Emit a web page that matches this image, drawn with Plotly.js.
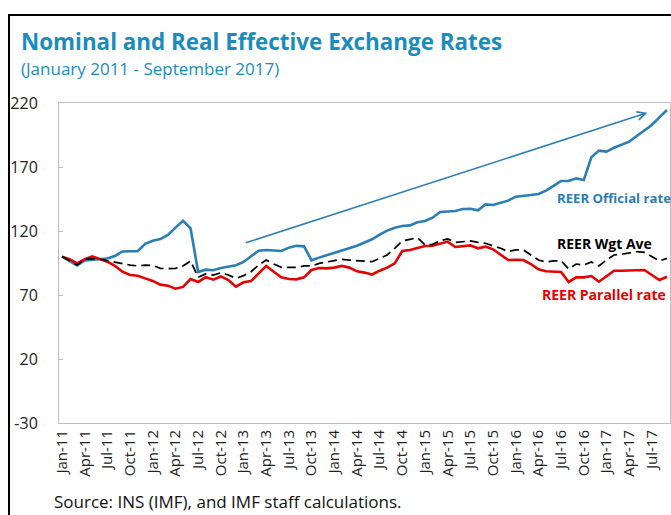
<!DOCTYPE html>
<html>
<head>
<meta charset="utf-8">
<script src="https://cdn.plot.ly/plotly-3.0.1.min.js"></script>
<style>
  html, body { margin: 0; padding: 0; background: #fff; }
  #wrap { position: relative; width: 671px; height: 515px; overflow: hidden; }
  #chart { position: absolute; left: 0; top: 0; width: 671px; height: 515px; }
  #frame { position: absolute; left: 8px; top: 14px; width: 700px; height: 600px;
           border-left: 2px solid #000; border-top: 2px solid #000; pointer-events: none; }
</style>
</head>
<body>
<div id="wrap">
  <div id="chart"></div>
  <div id="frame"></div>
</div>
<script>
// Month labels Jan-11 ... Sep-17
const monthNames = ["Jan","Feb","Mar","Apr","May","Jun","Jul","Aug","Sep","Oct","Nov","Dec"];
const years = ["11","12","13","14","15","16","17"];
const months = [];
years.forEach(function (yy) {
  monthNames.forEach(function (m) { months.push(m + "-" + yy); });
});
months.length = 81; // through Sep-17

const tickLabels = ["Jan-11","Apr-11","Jul-11","Oct-11","Jan-12","Apr-12","Jul-12","Oct-12",
  "Jan-13","Apr-13","Jul-13","Oct-13","Jan-14","Apr-14","Jul-14","Oct-14",
  "Jan-15","Apr-15","Jul-15","Oct-15","Jan-16","Apr-16","Jul-16","Oct-16",
  "Jan-17","Apr-17","Jul-17"];

const yTicks = [-30, 20, 70, 120, 170, 220];

const reerOfficial = [
  100, 96.6, 93, 97, 97.5, 98, 98.5, 100.5, 104, 104.2, 104.2, 110,
  112.4, 113.7, 117, 122.6, 128, 122, 88, 89.8, 89.3, 91.1, 92.1, 93.2,
  95.8, 100.5, 104.6, 105.2, 104.6, 104.4, 107, 108.5, 108, 97.1, 99.2, 101,
  103.1, 104.9, 106.2, 108.5, 111, 113.5, 117.1, 120.3, 122.6, 123.9, 124.4, 126.8,
  127.8, 130.4, 134.8, 135.1, 135.6, 137.2, 137.4, 136.1, 140.8, 140.3, 142.1, 143.7,
  146.8, 147.3, 148.1, 148.9, 151.5, 155.2, 159.1, 159.1, 161.1, 159.8, 177.6, 182.8,
  182, 185.1, 187.2, 189.8, 194.2, 198.4, 202.8, 208.8, 214.5
];

const reerWgtAve = [
  100, 96.5, 93.4, 97.9, 98.4, 97.9, 96.8, 95.3, 94.2, 93.4, 92.7, 93.4,
  93.1, 90.8, 90.6, 90.8, 92.7, 96.6, 83.8, 86.5, 85.5, 87.4, 85.6, 83,
  85.1, 88.2, 93.4, 97.3, 94.2, 91.6, 91.6, 91.6, 92.7, 92.7, 94.7, 95.8,
  97.3, 97.9, 97.3, 96.8, 96.3, 96, 98.6, 101.3, 106.5, 112.2, 113.5, 114.8,
  109.1, 109.6, 112.4, 113.75, 111.1, 111.9, 112.2, 111.1, 110.4, 108.3, 106.5, 103.9,
  105.2, 105.2, 101.25, 97.3, 95.8, 96.6, 96.8, 90.3, 94.2, 93.4, 95.8, 92.7,
  97.3, 101.25, 101.8, 102.6, 103.9, 103.3, 99.9, 96.6, 98.6
];

const reerParallel = [
  100, 97.9, 94.7, 97.9, 100.2, 97.9, 96, 92.7, 88.2, 85.6, 85.1, 83,
  81, 78.1, 77.3, 74.9, 76.3, 82.5, 80.2, 84, 82, 84.5, 81.7, 76.5,
  79.9, 80.9, 86.9, 92.7, 88.2, 83.8, 82.5, 82.2, 83.8, 89.5, 91.1, 90.8,
  91.4, 92.7, 91.4, 88.5, 87.5, 86, 89, 91.4, 94.7, 104.4, 105.2, 106.5,
  108.3, 108.5, 110.4, 111.7, 107.5, 108.3, 108.8, 106.5, 107.8, 105.7, 101.5, 97.3,
  97.5, 97.3, 94.2, 90.1, 88.5, 88.5, 88, 80.2, 83.8, 83.8, 84.8, 80.4,
  84.8, 89, 89, 89, 89.5, 89.5, 85.6, 81.7, 84.3
];

// Trend arrow (start / end in data units: month index, value)
const arrowStart = [24.1, 110.4];
const arrowEnd = [77.4, 212.4];

const BLUE = "#2a7db5";
const RED = "#e60000";
const TEAL = "#1a8cbc";
const FONT = "Open Sans, Noto Sans, sans-serif";

// plot area in pixels
const W = 671, H = 515;
const M = { l: 59, r: 1, t: 103, b: 92 };
const pw = W - M.l - M.r, ph = H - M.t - M.b;
function px(x) { return (x - M.l) / pw; }
function py(y) { return (H - M.b - y) / ph; }

const traces = [
  { x: months, y: reerOfficial, type: "scatter", mode: "lines", name: "REER Official rate",
    line: { color: BLUE, width: 2.6 }, hoverinfo: "skip" },
  { x: months, y: reerParallel, type: "scatter", mode: "lines", name: "REER Parallel rate",
    line: { color: RED, width: 2.6 }, hoverinfo: "skip" },
  { x: months, y: reerWgtAve, type: "scatter", mode: "lines", name: "REER Wgt Ave",
    line: { color: "#000", width: 1.7, dash: "9px,5px" }, hoverinfo: "skip" }
];

const layout = {
  width: W, height: H,
  margin: M,
  paper_bgcolor: "#fff", plot_bgcolor: "#fff",
  showlegend: false,
  font: { family: FONT, color: "#222" },
  title: {
    text: "Nominal and Real Effective Exchange Rates",
    x: 21 / W, xanchor: "left", xref: "container",
    y: 1 - 42 / H, yanchor: "middle", yref: "container",
    font: { family: FONT, size: 22.4, color: TEAL, weight: "bold" }
  },
  xaxis: {
    type: "category",
    range: [-0.4, 80.4],
    tickmode: "array", tickvals: tickLabels, ticktext: tickLabels,
    tickangle: -90,
    tickfont: { family: FONT, size: 15, color: "#222" },
    showgrid: false, zeroline: false,
    showline: true, linecolor: "#bfbfbf", linewidth: 1, mirror: true,
    ticks: "", fixedrange: true
  },
  yaxis: {
    range: [-30, 220],
    tickmode: "array", tickvals: yTicks, ticktext: yTicks.map(String),
    tickfont: { family: FONT, size: 16, color: "#222" },
    showgrid: false, zeroline: false,
    showline: true, linecolor: "#bfbfbf", linewidth: 1, mirror: true,
    ticks: "inside", ticklen: 4, tickcolor: "#bfbfbf",
    ticklabelstandoff: 17, fixedrange: true
  },
  annotations: [
    { text: "(January 2011 - September 2017)", xref: "paper", yref: "paper",
      x: px(19), y: py(68), xanchor: "left", yanchor: "middle", showarrow: false,
      font: { family: FONT, size: 17, color: TEAL } },
    { text: "Source: INS (IMF), and IMF staff calculations.", xref: "paper", yref: "paper",
      x: px(52), y: py(501), xanchor: "left", yanchor: "middle", showarrow: false,
      font: { family: FONT, size: 17, color: "#111" } },
    { text: "REER Official rate", xref: "paper", yref: "paper",
      x: px(555), y: py(198), xanchor: "left", yanchor: "middle", showarrow: false,
      font: { family: FONT, size: 13.2, color: BLUE, weight: "bold" } },
    { text: "REER Wgt Ave", xref: "paper", yref: "paper",
      x: px(555), y: py(243), xanchor: "left", yanchor: "middle", showarrow: false,
      font: { family: FONT, size: 14, color: "#000", weight: "bold" } },
    { text: "REER Parallel rate", xref: "paper", yref: "paper",
      x: px(540), y: py(294), xanchor: "left", yanchor: "middle", showarrow: false,
      font: { family: FONT, size: 14, color: RED, weight: "bold" } },
    { text: "", x: arrowEnd[0], y: arrowEnd[1], xref: "x", yref: "y",
      ax: arrowStart[0], ay: arrowStart[1], axref: "x", ayref: "y",
      showarrow: true, arrowhead: 5, arrowsize: 1.1, arrowwidth: 1.5, arrowcolor: BLUE,
      standoff: 0, startstandoff: 0 }
  ]
};

Plotly.newPlot("chart", traces, layout, { staticPlot: true, displayModeBar: false });
</script>
</body>
</html>
